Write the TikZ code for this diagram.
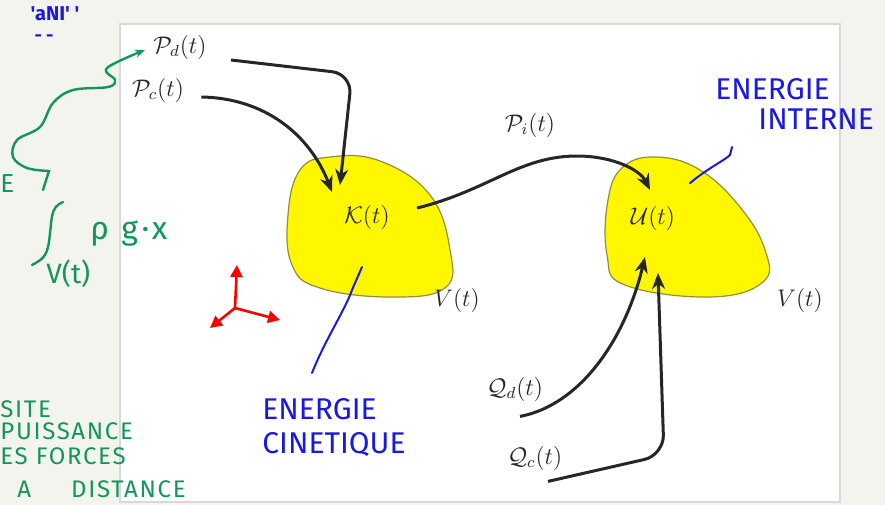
\documentclass[tikz,border=0pt]{standalone}
\usepackage{fontspec}
\newfontfamily\handfont{Fira Sans}
\usetikzlibrary{arrows.meta, positioning, calc}
\definecolor{paper}{RGB}{244,244,239}
\definecolor{blob}{RGB}{255,247,0}
\definecolor{blobrim}{RGB}{150,140,60}
\definecolor{penblue}{RGB}{25,25,225}
\definecolor{pengreen}{RGB}{20,150,90}
\tikzset{
  lbl/.style={font=\large, text=black!85, inner sep=1pt},
  flux/.style={line width=1.5pt, draw=black!85, -{Stealth[length=8pt,width=6.5pt]}},
  body/.style={fill=blob, draw=blobrim, line width=0.6pt},
  axis/.style={red, line width=1.3pt, -{Triangle[length=6pt,width=6pt]}},
  blueink/.style={penblue, line width=1pt, line cap=round},
  greenink/.style={pengreen, line width=1.2pt, line cap=round},
  bluenote/.style={text=penblue, font=\handfont\fontsize{15}{17}\selectfont, align=left, inner sep=0pt},
  greennote/.style={text=pengreen, font=\handfont\fontsize{12}{12}\selectfont\addfontfeature{LetterSpace=7}, inner sep=0pt}
}
\begin{document}
\begin{tikzpicture}[x=0.5pt, y=-0.5pt]
\fill[paper] (0,0) rectangle (885,505);
\useasboundingbox (0,0) rectangle (885,505);
% sheet
\filldraw[fill=white, draw=black!15, line width=0.6pt] (120,24) rectangle (840,502);

% the two volumes
\draw[body] plot[smooth cycle, tension=0.7] coordinates {(300,170) (330,157) (380,161) (430,195) (450,250) (445,288) (390,297) (320,288) (292,265) (288,215)};
\draw[body] plot[smooth cycle, tension=0.7] coordinates {(623,167) (657,157) (700,170) (740,207) (765,250) (763,282) (710,297) (625,285) (607,255) (608,200)};

% labels
\node[lbl] (pd) at (180,47) {$\mathcal{P}_d(t)$};
\node[lbl] (pc) at (158,90) {$\mathcal{P}_c(t)$};
\node[lbl] (pi) at (530,125) {$\mathcal{P}_i(t)$};
\node[lbl] (kin) at (367,217) {$\mathcal{K}(t)$};
\node[lbl] (int) at (653,218) {$\mathcal{U}(t)$};
\node[lbl] (qd) at (515,389) {$\mathcal{Q}_d(t)$};
\node[lbl] (qc) at (535,458) {$\mathcal{Q}_c(t)$};
\node[lbl] (vk) at (457,300) {$V(t)$};
\node[lbl] (vu) at (800,300) {$V(t)$};

% arrow tips inside the volumes
\coordinate (kd) at (340,185);
\coordinate (kc) at (332,192);
\coordinate (ui) at (650,190);
\coordinate (ud) at (645,257);
\coordinate (uc) at (658,273);

% power and heat fluxes
\draw[flux, rounded corners=10pt] ($(pd.east)+(22,13)$) -- (352,74) -- (kd);
\draw[flux] ($(pc.east)+(15,7)$) .. controls (265,98) and (310,135) .. (kc);
\draw[flux] ($(kin.east)+(25,-9)$) .. controls (490,190) and (520,155) .. (580,156) .. controls (615,157) and (640,170) .. (ui);
\draw[flux] ($(qd.south)+(5,13)$) .. controls (580,405) and (625,340) .. (ud);
\draw[flux, rounded corners=10pt] ($(qc.south)+(13,9)$) -- (664,455) -- (uc);

% frame
\coordinate (o) at (235,308);
\draw[axis] (o) -- (237,265);
\draw[axis] (o) -- (280,320);
\draw[axis] (o) -- (210,328);

% blue notes
\node[bluenote, anchor=north west] (ecin) at (262,398) {ENERGIE\\CINETIQUE};
\node[bluenote, anchor=north west] (eint) at (715,78) {ENERGIE};
\node[bluenote, anchor=north west] (eint2) at (758,108) {INTERNE};
\node[text=penblue, font=\handfont\bfseries\fontsize{10}{10}\selectfont, inner sep=0pt] (scrap) at (55,14) {'aNI' '};
\node[text=penblue, font=\handfont\bfseries\fontsize{9}{9}\selectfont, inner sep=0pt] (scrap2) at (44,38) {- -};
\draw[blueink] ($(ecin.north west)+(50,-25)$) .. controls (325,340) and (345,310) .. (352,290) -- (362,267);
\draw[blueink] ($(eint.south west)+(-25,83)$) .. controls (705,170) and (725,160) .. (730,155) -- (732,147);

% green notes
\coordinate (gtip) at ($(pd.west)+(-6,3)$);
\draw[greenink, -{Stealth[length=5pt,width=4pt]}] (43,190) -- plot[smooth, tension=0.6] coordinates {(49,171) (27,168) (13,157) (17,140) (40,127) (53,103) (73,90) (108,87) (115,80) (107,68) (gtip)};
\node[greennote, anchor=west, font=\handfont\fontsize{13}{13}\selectfont] (ge) at (0,184) {E};
\draw[greenink] (63,202) .. controls (50,207) and (52,220) .. (50,233) .. controls (48,255) and (45,258) .. (32,265);
\node[greennote, anchor=west, font=\handfont\fontsize{16}{16}\selectfont\addfontfeature{LetterSpace=12}] (rho) at (90,234) {ρ g·x};
\node[greennote, anchor=west, font=\handfont\fontsize{14}{14}\selectfont] (vol) at (46,274) {V(t)};
\node[greennote, anchor=west] (g1) at (0,409) {SITE};
\node[greennote, anchor=west] (g2) at (0,431) {PUISSANCE};
\node[greennote, anchor=west] (g3) at (0,456) {ES FORCES};
\node[greennote, anchor=west] (g4) at (17,489) {A\hspace{20pt}DISTANCE};
\end{tikzpicture}
\end{document}
